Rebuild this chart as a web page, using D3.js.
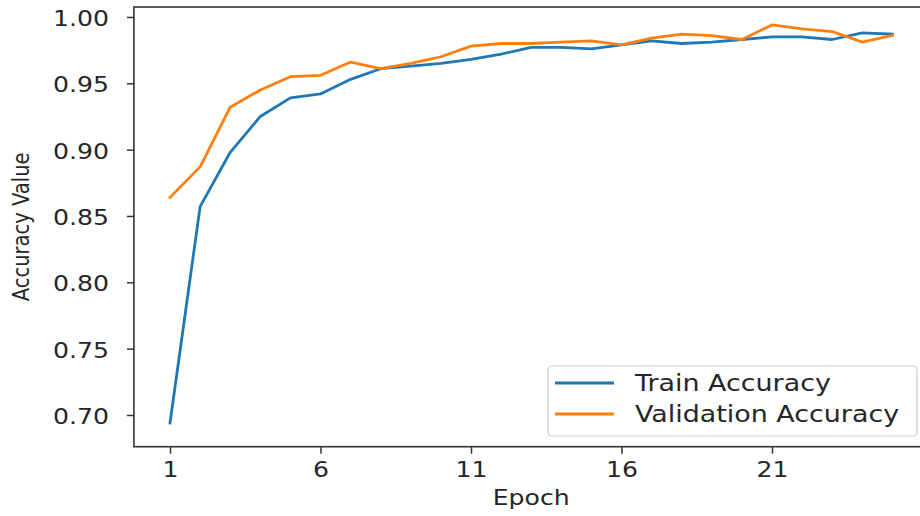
<!DOCTYPE html>
<html>
<head>
<meta charset="utf-8">
<script src="https://cdn.jsdelivr.net/npm/d3@7"></script>
<style>
  html, body { margin: 0; padding: 0; background: #fff; }
  svg { display: block; }
  text { font-family: "DejaVu Sans", sans-serif; fill: #262626; }
</style>
</head>
<body>
<svg id="chart" width="920" height="516"></svg>
<script>
// Training history per epoch
const epochs = d3.range(1, 26);
const trainAccuracy = [0.694, 0.857, 0.898, 0.925, 0.939, 0.942, 0.953, 0.961, 0.963, 0.965,
                       0.968, 0.972, 0.977, 0.977, 0.976, 0.979, 0.982, 0.980, 0.981, 0.983,
                       0.985, 0.985, 0.983, 0.988, 0.987];
const valAccuracy   = [0.864, 0.887, 0.932, 0.945, 0.955, 0.956, 0.966, 0.961, 0.965, 0.970,
                       0.978, 0.980, 0.980, 0.981, 0.982, 0.979, 0.984, 0.987, 0.986, 0.983,
                       0.994, 0.991, 0.989, 0.981, 0.986];
const xTicks = [1, 6, 11, 16, 21];
const yTicks = [0.70, 0.75, 0.80, 0.85, 0.90, 0.95, 1.00];
const seriesNames = ["Train Accuracy", "Validation Accuracy"];
const colors = ["#1f77b4", "#ff7f0e"];

const svg = d3.select("#chart");
const plot = { left: 133.9, right: 928.5, top: 7, bottom: 446.7 };

const x = d3.scaleLinear().domain([-0.2, 26.2]).range([plot.left, plot.right]);
const y = d3.scaleLinear().domain([0.6761, 1.0075]).range([plot.bottom, plot.top]);

// Text is drawn slightly widened horizontally
const stretch = 1.17;
const tickFont = 21.5;
const legendFont = 23;

// Widen a text element about its own x anchor
function widen(sel) {
  sel.each(function () {
    const t = d3.select(this);
    const x0 = +t.attr("x") || 0;
    t.attr("x", x0 / stretch).attr("transform", `scale(${stretch},1)`);
  });
}

// Series lines
const line = d3.line().x((d, i) => x(epochs[i])).y(d => y(d));
[trainAccuracy, valAccuracy].forEach((s, k) => {
  svg.append("path")
    .datum(s)
    .attr("d", line)
    .attr("fill", "none")
    .attr("stroke", colors[k])
    .attr("stroke-width", 2.8)
    .attr("stroke-linejoin", "round")
    .attr("stroke-linecap", "square");
});

// Axes
const xAxis = svg.append("g")
  .attr("transform", `translate(0,${plot.bottom})`)
  .call(d3.axisBottom(x).tickValues(xTicks).tickFormat(d3.format("d")).tickSize(7).tickPadding(7.7));
const yAxis = svg.append("g")
  .attr("transform", `translate(${plot.left},0)`)
  .call(d3.axisLeft(y).tickValues(yTicks).tickFormat(d3.format(".2f")).tickSize(7).tickPadding(18));

[xAxis, yAxis].forEach(g => {
  g.select(".domain").remove();
  g.selectAll(".tick line").attr("stroke", "#333").attr("stroke-width", 1.5);
  g.selectAll(".tick text")
    .attr("font-size", tickFont)
    .attr("font-family", "DejaVu Sans")
    .attr("fill", "#262626")
    .call(widen);
});
yAxis.selectAll(".tick text").attr("dy", "0.4em");

// Frame
svg.append("rect")
  .attr("x", plot.left).attr("y", plot.top)
  .attr("width", plot.right - plot.left).attr("height", plot.bottom - plot.top)
  .attr("fill", "none")
  .attr("stroke", "#333")
  .attr("stroke-width", 1.6);

// Axis titles
svg.append("text")
  .attr("x", (plot.left + plot.right) / 2)
  .attr("y", 505)
  .attr("text-anchor", "middle")
  .attr("font-size", tickFont)
  .text("Epoch")
  .call(widen);

svg.append("text")
  .attr("transform", `translate(29,${(plot.top + plot.bottom) / 2}) scale(${stretch},1) rotate(-90)`)
  .attr("text-anchor", "middle")
  .attr("font-size", 19.5)
  .text("Accuracy Value");

// Legend
const legend = svg.append("g");
legend.append("rect")
  .attr("x", 548).attr("y", 366)
  .attr("width", 369).attr("height", 70)
  .attr("rx", 4)
  .attr("fill", "#fff").attr("fill-opacity", 0.8)
  .attr("stroke", "#cccccc").attr("stroke-width", 1.2);
seriesNames.forEach((name, k) => {
  const ly = 383 + k * 31;
  legend.append("line")
    .attr("x1", 555).attr("x2", 614)
    .attr("y1", ly).attr("y2", ly)
    .attr("stroke", colors[k]).attr("stroke-width", 2.8);
  legend.append("text")
    .attr("x", 635).attr("y", ly + 8.5)
    .attr("font-size", legendFont)
    .text(name)
    .call(widen);
});
</script>
</body>
</html>
